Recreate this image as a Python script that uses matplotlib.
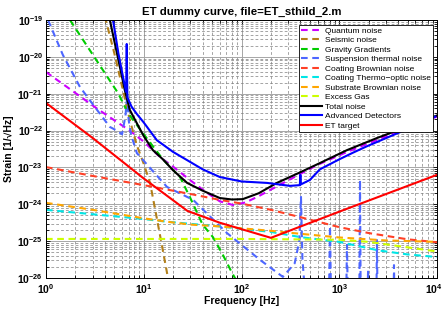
import numpy as np
import matplotlib
matplotlib.use("Agg")
import matplotlib.pyplot as plt
from matplotlib.ticker import LogLocator, FixedLocator, NullFormatter
from matplotlib.transforms import ScaledTranslation

plt.rcParams['font.family'] = ['Liberation Sans', 'DejaVu Sans']
plt.rcParams['mathtext.fontset'] = 'custom'
plt.rcParams['mathtext.rm'] = 'Liberation Sans:bold'
plt.rcParams['mathtext.bf'] = 'Liberation Sans:bold'
plt.rcParams['mathtext.it'] = 'Liberation Sans:bold'

# curvas (frecuencia en Hz, strain como exponente de 10)
f_quantum = [1, 2, 3.4, 5, 7.2, 10, 14.7, 20, 30, 45, 60, 82, 110, 150, 200, 300, 600, 1200, 2500, 5000, 10000]
e_quantum = [-20.41, -20.98, -21.42, -21.72, -22.0, -22.3, -22.72, -22.98, -23.35, -23.7, -23.92, -24.02,
             -23.95, -23.78, -23.6, -23.35, -22.93, -22.58, -22.24, -21.93, -21.62]

f_seismic = [4.0, 5.0, 6.0, 7.2, 8.5, 10, 11.6, 13, 14.7, 17.3, 19]
e_seismic = [-18.9, -19.9, -20.8, -21.71, -22.4, -22.9, -23.42, -24.1, -24.85, -25.86, -26.4]

f_gg = [1.76, 3.17, 5.45, 6.9, 10, 15.7, 23.5, 29.6, 40, 51, 63, 80, 90]
e_gg = [-19.0, -20.03, -20.98, -21.52, -22.1, -22.78, -23.26, -23.8, -24.55, -24.89, -25.32, -25.86, -26.1]

f_susp = [1.05, 1.49, 2.23, 3.33, 4.5, 5.3, 6.0, 6.5, 6.8, 7.0, 7.4, 8.5, 17.3, 32, 71, 155, 265, 350, 390,
          406, 420, 450, 780, 804, 828, 1170, 1200, 1230, 1600, 1630, 1660, 1940, 1970, 2000, 2390, 2430,
          2470, 3580, 3630, 3680, 10000]
e_susp = [-19.0, -19.95, -20.82, -21.44, -21.9, -22.0, -22.1, -21.6, -21.0, -21.7, -22.1, -22.61, -23.53,
          -23.88, -24.78, -25.51, -25.97, -25.6, -25.0, -23.8, -25.5, -26.5, -27, -24.59, -27, -27, -25.1,
          -27, -27, -23.34, -27, -27, -25.78, -27, -27, -24.97, -27, -27, -25.65, -27, -27]

f_cb = [1, 3, 10, 30, 60, 100, 200, 400, 1000, 2000, 5000, 10000]
e_cb = [-22.99, -23.23, -23.48, -23.72, -23.88, -23.98, -24.15, -24.35, -24.62, -24.78, -24.95, -25.03]

f_cto = [1, 3, 10, 17, 30, 60, 200, 400, 1000, 2500, 5000, 10000]
e_cto = [-24.15, -24.27, -24.4, -24.47, -24.53, -24.6, -24.75, -24.89, -25.02, -25.25, -25.36, -25.43]

f_sb = [1, 3, 10, 17, 30, 60, 200, 400, 1000, 3000, 10000]
e_sb = [-23.96, -24.15, -24.38, -24.47, -24.55, -24.6, -24.72, -24.8, -24.9, -24.98, -25.02]

f_gas = [1, 100, 1000, 2000, 4200, 10000]
e_gas = [-24.94, -24.94, -24.96, -25.02, -25.14, -25.28]

f_total = [4.5, 5.5, 6.4, 7.2, 8.5, 10, 12.4, 15.7, 20, 27.8, 40, 60, 80, 103, 150, 230, 400, 635, 1200, 2440, 5000, 10000]
e_total = [-19.0, -20.08, -20.9, -21.44, -21.8, -22.15, -22.53, -22.78, -23.08, -23.42, -23.63, -23.83, -23.87,
           -23.86, -23.7, -23.42, -23.13, -22.88, -22.53, -22.2, -21.89, -21.59]

f_adv = [4.85, 5.5, 6.2, 6.6, 6.7, 6.8, 7.5, 8.5, 10, 13.6, 20, 27.7, 40, 60, 100, 183, 313, 395, 400, 405,
         500, 635, 1000, 1380, 1900, 4200, 9600]
e_adv = [-19.0, -19.9, -20.6, -20.95, -19.65, -21.1, -21.35, -21.55, -21.78, -22.26, -22.58, -22.8, -23.05,
         -23.26, -23.38, -23.42, -23.5, -23.48, -23.2, -23.46, -23.34, -23.05, -22.78, -22.6, -22.43, -22.04, -21.62]

f_et = [1, 3, 10, 28, 60, 200, 1000, 10000]
e_et = [-21.25, -22.2, -23.3, -24.18, -24.5, -24.91, -24.2, -23.2]

def h(e):
    return 10.0 ** np.array(e)

fig = plt.figure(figsize=(4.43, 3.13), dpi=100)
ax = fig.add_axes([0.1038, 0.1118, 0.8827, 0.8242])

dash = (0, (3.2, 2.2))
lw = 1.5
ax.loglog(f_quantum, h(e_quantum), color=(0.8, 0.0, 1.0), ls=dash, lw=lw, label="Quantum noise")
ax.loglog(f_seismic, h(e_seismic), color=(0.7, 0.5, 0.1), ls=dash, lw=lw, label="Seismic noise")
ax.loglog(f_gg, h(e_gg), color=(0.0, 0.8, 0.0), ls=dash, lw=lw, label="Gravity Gradients")
ax.loglog(f_susp, h(e_susp), color=(0.3, 0.4, 1.0), ls=dash, lw=lw, label="Suspension thermal noise")
ax.loglog(f_cb, h(e_cb), color=(1.0, 0.25, 0.15), ls=dash, lw=lw, label="Coating Brownian noise")
ax.loglog(f_cto, h(e_cto), color=(0.0, 0.9, 0.9), ls=dash, lw=lw, label="Coating Thermo\u2212optic noise")
ax.loglog(f_sb, h(e_sb), color=(1.0, 0.65, 0.0), ls=dash, lw=lw, label="Substrate Brownian noise")
ax.loglog(f_gas, h(e_gas), color=(0.8, 1.0, 0.0), ls=dash, lw=lw, label="Excess Gas")
ax.loglog(f_total, h(e_total), color="k", lw=lw, label="Total noise")
ax.loglog(f_adv, h(e_adv), color="b", lw=lw, label="Advanced Detectors")
ax.loglog(f_et, h(e_et), color="r", lw=lw, label="ET target")

ax.set_xlim(1, 1e4)
ax.set_ylim(1e-26, 1e-19)

xt = [1, 10, 100, 1000, 10000]
yt = [1e-26, 1e-25, 1e-24, 1e-23, 1e-22, 1e-21, 1e-20, 1e-19]
ax.xaxis.set_major_locator(FixedLocator(xt))
ax.yaxis.set_major_locator(FixedLocator(yt))
ax.set_xticklabels([r"$10^{%d}$" % int(np.log10(v)) for v in xt], fontsize=7.5)
ax.set_yticklabels([r"$10^{%d}$" % int(round(np.log10(v))) for v in yt], fontsize=7.5)
ax.xaxis.set_minor_locator(LogLocator(base=10, subs=np.arange(2, 10), numticks=100))
ax.yaxis.set_minor_locator(LogLocator(base=10, subs=np.arange(2, 10), numticks=100))
ax.xaxis.set_minor_formatter(NullFormatter())
ax.yaxis.set_minor_formatter(NullFormatter())
ax.tick_params(which="both", direction="in", top=True, right=True, length=3, width=0.6, pad=2)
ax.tick_params(axis="x", which="major", pad=3)
ax.tick_params(which="minor", length=2)

# el ultimo rotulo (10^4) se corta en el borde: lo corro un poco a la izquierda
last = ax.get_xticklabels()[-1]
last.set_transform(last.get_transform() + ScaledTranslation(-3 / 100, 0, fig.dpi_scale_trans))

ax.grid(which="major", color="0.65", ls="-", lw=0.7)
ax.grid(which="minor", color="0.5", ls=(0, (4, 3)), lw=0.5)
ax.set_axisbelow(True)
for s in ax.spines.values():
    s.set_linewidth(0.7)

ax.set_title("ET dummy curve, file=ET_sthild_2.m", fontsize=8.2, fontweight="bold", pad=4)
ax.set_xlabel("Frequency [Hz]", fontsize=7.5, fontweight="bold", labelpad=0)
ax.set_ylabel("Strain [1/\u221aHz]", fontsize=7.5, fontweight="bold", labelpad=2)

leg = ax.legend(loc="upper right", bbox_to_anchor=(0.99, 0.981), prop={"size": 6}, frameon=True,
                fancybox=False, edgecolor="k", framealpha=1, handlelength=2.5, handletextpad=0.35,
                labelspacing=0.2, borderpad=0.25, borderaxespad=0)
leg.get_frame().set_linewidth(0.6)

fig.savefig("out.png", dpi=100)
